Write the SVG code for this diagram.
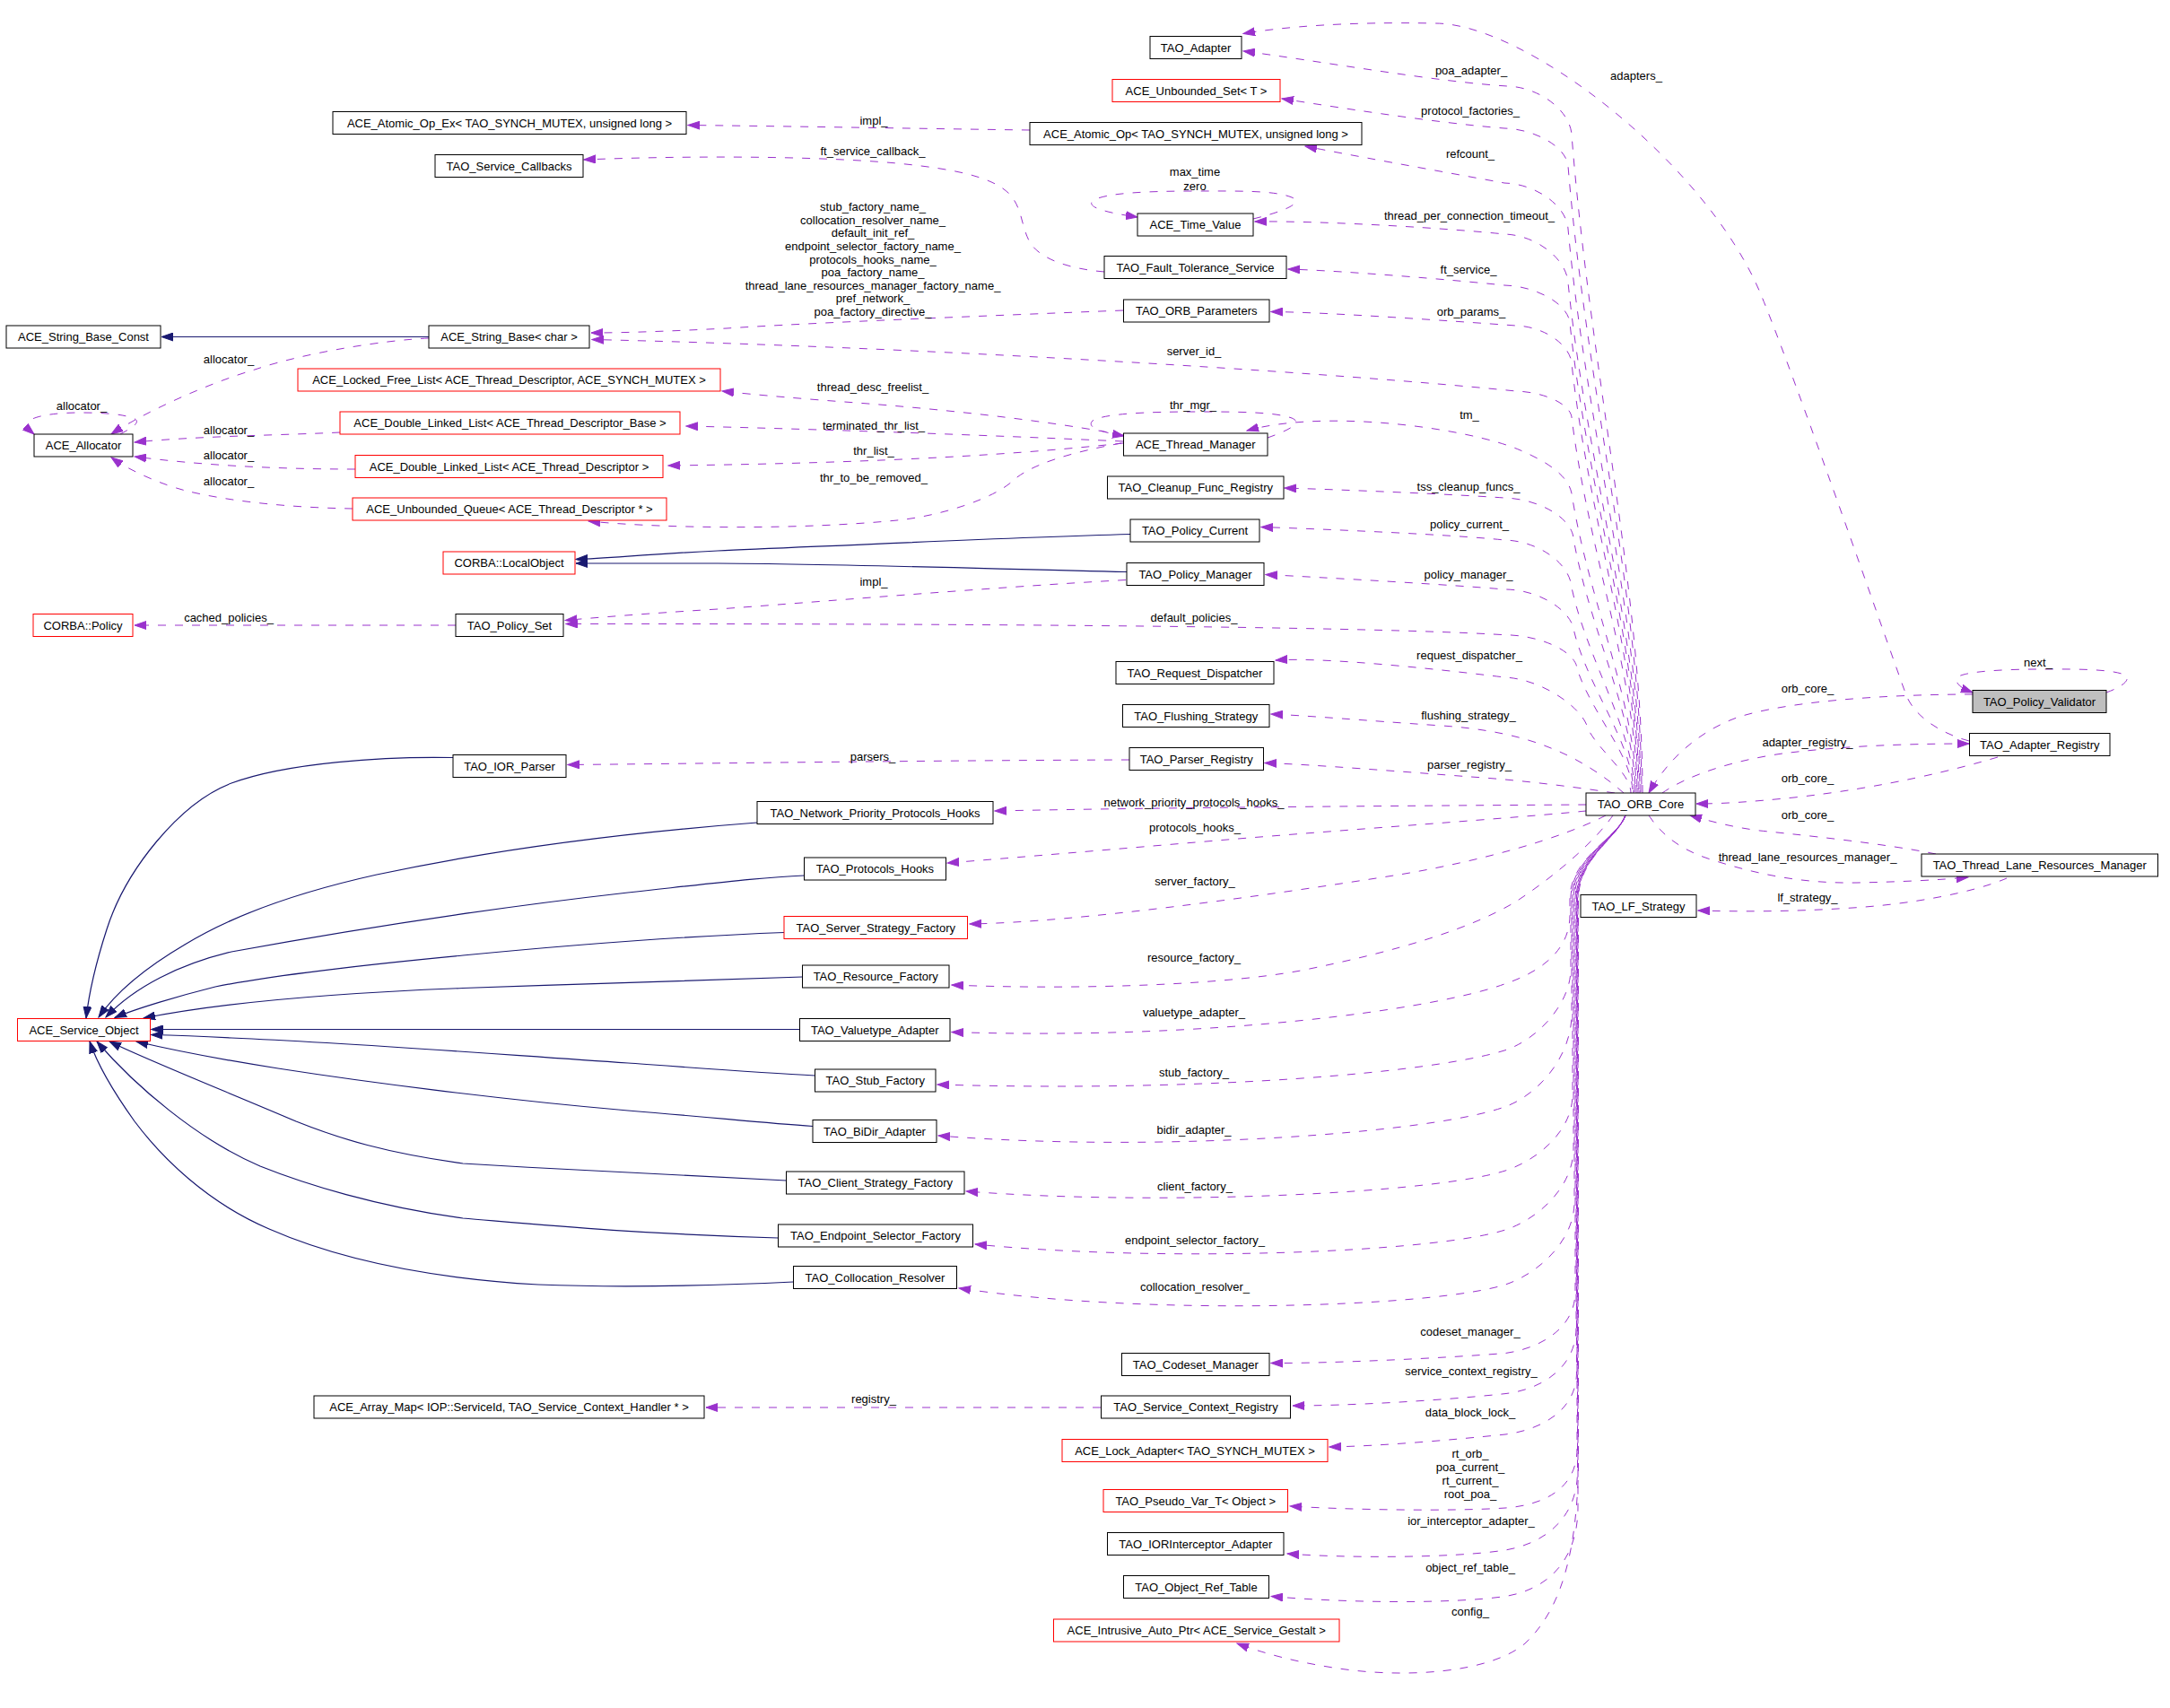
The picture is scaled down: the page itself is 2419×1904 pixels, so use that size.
<svg xmlns="http://www.w3.org/2000/svg" width="2419" height="1904" viewBox="0 0 2419 1904">
<style>
text{font-family:"Liberation Sans",Arial,Helvetica,sans-serif;font-size:13px;fill:#000}
.n rect{fill:#fff;stroke:#000;stroke-width:1}
.r rect{stroke:#f00}
.g rect{fill:#bfbfbf}
.n text{text-anchor:middle}
.u{fill:none;stroke:#9a32cd;stroke-width:1;stroke-dasharray:9,10;marker-end:url(#ap)}
.i{fill:none;stroke:#191970;stroke-width:1.2;marker-end:url(#an)}
.l{text-anchor:middle}
.o1{stroke-dashoffset:3}.o2{stroke-dashoffset:6}.o3{stroke-dashoffset:9}.o4{stroke-dashoffset:12}.o5{stroke-dashoffset:15}.o6{stroke-dashoffset:18}
</style>
<defs>
<marker id="ap" markerUnits="userSpaceOnUse" markerWidth="14" markerHeight="10" refX="13" refY="5" orient="auto"><path d="M0,0.5 L13,5 L0,9.5 z" fill="#9a32cd" stroke="#9a32cd" stroke-width="1"/></marker>
<marker id="an" markerUnits="userSpaceOnUse" markerWidth="14" markerHeight="10" refX="13" refY="5" orient="auto"><path d="M0,0.5 L13,5 L0,9.5 z" fill="#191970" stroke="#191970" stroke-width="1"/></marker>
</defs>
<rect x="0" y="0" width="2419" height="1904" fill="#fff"/>
<g id="connectors">
<!-- upper bundle from TAO_ORB_Core -->
<path class="u" d="M1831,884 C1831,664 1772,407 1752,150 C1750,123 1716,97 1680,96 C1600,91 1470,68 1386,57"/>
<path class="u o3" d="M1830,884 C1830,674 1768,430 1748,185 C1746,164 1712,144 1677,143 C1600,137 1480,118 1429,110"/>
<path class="u o6" d="M1829,884 C1829,695 1768,475 1748,255 C1746,229 1712,205 1677,204 C1600,190 1500,172 1455,163"/>
<path class="u o2" d="M1828,884 C1828,713 1768,514 1748,315 C1746,288 1712,262 1677,261 C1620,255 1480,246 1399,247"/>
<path class="u o5" d="M1827,884 C1827,727 1769,543 1750,360 C1748,339 1713,319 1677,318 C1620,312 1500,302 1436,300"/>
<path class="u o1" d="M1826,884 C1826,740 1770,573 1752,405 C1750,384 1721,364 1690,363 C1620,358 1480,348 1417,347.5"/>
<path class="u o4" d="M1825,884 C1825,758 1770,612 1752,465 C1750,450 1721,437 1690,436 C1450,412 1000,386 660,378.5"/>
<path class="u" d="M1824,884 C1824,784 1770,667 1752,550 C1748,530 1725,515 1695,502 C1640,478 1480,455 1390,480"/>
<path class="u o3" d="M1823,884 C1823,799 1771,699 1754,600 C1752,577 1715,556 1677,555 C1620,551 1500,546 1432,544"/>
<path class="u o6" d="M1822,884 C1822,815 1769,735 1752,655 C1750,628 1715,603 1677,602 C1620,596 1480,590 1406,587.5"/>
<path class="u o2" d="M1821,884 C1821,830 1771,768 1755,705 C1753,681 1716,657 1677,657 C1620,652 1480,644 1411,640.5"/>
<path class="u o5" d="M1820,884 C1820,842 1773,794 1758,745 C1756,726 1717,708 1677,707.7 C1550,700 1200,695 631,695.5"/>
<path class="u o1" d="M1818,884 C1818,862 1782,837 1770,812 C1765,790 1720,757 1677,755 C1620,748 1480,732 1422,736"/>
<path class="u" d="M1810,884 C1790,866 1760,846 1729,834 C1700,822 1660,812 1600,808.5 C1520,803 1460,798 1417,796"/>
<path class="u" d="M1800,884 C1760,878 1700,870 1640,866 C1560,860 1460,852 1410,850.5"/>
<!-- left side from TAO_ORB_Core -->
<path class="u" d="M1768,897 C1600,898 1300,900 1109,904"/>
<path class="u" d="M1768,904 C1700,911 1500,925 1368,936 C1250,946 1120,957 1056,962"/>
<path class="u" d="M1790,909 C1740,935 1650,960 1560,975 C1400,1000 1200,1028 1081,1030"/>
<path class="u" d="M1798,909 C1780,935 1740,972 1690,1005 C1640,1035 1560,1060 1450,1082 C1350,1100 1180,1103 1061,1098"/>
<!-- lower bundle -->
<path class="u" d="M1812,909 C1802,935 1752,955 1750,1000 L1750,1020 C1750,1062 1713,1085 1677,1097 C1600,1125 1350,1160 1061,1150.5"/>
<path class="u o3" d="M1812,909 C1802,935 1753,955 1751,1000 L1751,1080 C1751,1120 1712,1160 1677,1171 C1600,1195 1350,1218 1045,1209"/>
<path class="u o6" d="M1812,909 C1802,935 1754,955 1752,1000 L1752,1130 C1752,1180 1712,1222 1677,1234 C1600,1262 1300,1286 1046,1266"/>
<path class="u o2" d="M1812,909 C1802,935 1755,955 1753,1000 L1753,1220 C1753,1262 1712,1294 1678,1305 C1600,1330 1300,1345 1077,1328"/>
<path class="u o5" d="M1812,909 C1802,935 1756,955 1754,1000 L1754,1280 C1754,1325 1712,1360 1678,1371 C1600,1396 1300,1408 1087,1387"/>
<path class="u o1" d="M1812,909 C1802,935 1757,955 1755,1000 L1755,1340 C1755,1385 1712,1421 1678,1432 C1600,1457 1280,1468 1069,1436"/>
<path class="u o4" d="M1812,909 C1802,935 1758,955 1756,1000 L1756,1440 C1756,1480 1718,1503 1678,1508.5 C1610,1514 1480,1520 1417,1519.5"/>
<path class="u" d="M1812,909 C1802,935 1759,955 1757,1000 L1757,1480 C1757,1525 1718,1549 1678,1553.6 C1600,1562 1500,1567 1441,1567"/>
<path class="u o3" d="M1812,909 C1802,935 1759.5,955 1757.5,1000 L1757.5,1530 C1757.5,1572 1718,1594 1678,1599 C1620,1605 1540,1612 1482,1613"/>
<path class="u o6" d="M1812,909 C1802,935 1760,955 1758,1000 L1758,1615 C1758,1660 1720,1678 1678,1681 C1620,1685 1500,1683 1438,1679"/>
<path class="u o2" d="M1812,909 C1802,935 1760.5,955 1758.5,1000 L1758.5,1640 C1758.5,1690 1725,1720 1678,1728 C1620,1737 1500,1737 1435,1732"/>
<path class="u o5" d="M1812,909 C1802,935 1761,955 1759,1000 L1759,1680 C1759,1740 1725,1772 1678,1779.5 C1620,1788 1500,1787 1417,1779.5"/>
<path class="u o1" d="M1812,909 C1802,935 1761.5,955 1759.5,1000 L1759.5,1640 C1757,1720 1745,1790 1700,1832 C1660,1866 1560,1872 1480,1858 C1430,1850 1395,1838 1379,1832"/>
<!-- right side -->
<path class="u" d="M2199,774 C2100,774 1990,782 1936,800 C1895,815 1860,845 1838,884"/>
<path class="u" d="M1853,884 C1880,865 1930,848 1987,840 C2050,832 2120,829 2195,829"/>
<path class="u" d="M2227,844 C2180,858 2100,878 2000,889 C1950,894 1920,896 1891,896"/>
<path class="u" d="M2158,952 C2100,940 2000,930 1962,926 C1930,922 1905,915 1884,909"/>
<path class="u" d="M1838,909 C1855,935 1880,950 1910,959 C1960,975 2010,985 2070,984 C2120,983 2160,981 2194,978"/>
<path class="u" d="M2237,979 C2200,995 2130,1008 2065,1012 C1990,1017 1930,1016 1893,1015"/>
<path class="u" d="M2195,826 C2165,818 2135,800 2125,775 C2110,735 1999,414 1962,326 C1900,180 1700,26 1600,26 C1500,24 1430,30 1386,37.5"/>
<!-- self loops -->
<path class="u" d="M1397,244 C1430,236 1455,226 1440,220 C1420,212 1380,213 1332,213 C1280,213 1230,215 1218,224 C1210,232 1240,238 1268,242"/>
<path class="u" d="M1413,488 C1430,482 1455,472 1440,466 C1420,459 1380,459 1332,459 C1280,459 1230,461 1218,469 C1210,477 1230,482 1253,486"/>
<path class="u" d="M2348,772 C2365,766 2380,756 2365,751 C2345,745 2300,746 2272,746 C2240,746 2190,748 2182,755 C2178,762 2188,768 2199,772"/>
<path class="u" d="M134,484 C145,478 160,470 148,466 C135,461 110,460 88,460 C65,460 40,463 33,469 C28,474 31,478 38,484"/>
<!-- other usage edges -->
<path class="u" d="M478,377 C430,379 340,393 284,412 C230,428 160,460 124,484"/>
<path class="u" d="M379,482 C320,485 220,486 150,493"/>
<path class="u" d="M396,523 C300,523 220,518 150,509"/>
<path class="u" d="M393,567 C330,566 260,560 207,547 C180,540 145,525 124,510"/>
<path class="u" d="M1252,485 C1200,475 1100,460 955,449 C900,445 840,440 805,436"/>
<path class="u" d="M1252,492 C1100,485 900,478 765,475"/>
<path class="u" d="M1252,494 C1150,505 1000,516 745,519"/>
<path class="u" d="M1250,494 C1190,505 1150,518 1130,535 C1110,555 1050,575 1000,580 C900,590 750,590 656,581"/>
<path class="u" d="M1231,303 C1195,300 1160,290 1148,270 C1138,252 1140,232 1125,216 C1105,196 1060,188 1000,182 C900,173 750,174 651,178"/>
<path class="u" d="M1148,145 C1000,143 900,141 767,139.5"/>
<path class="u" d="M1255,646.5 C1100,655 900,672 800,679 C720,684 670,688 630,691.5"/>
<path class="u" d="M1259,847 C1000,848 800,851 633,852.5"/>
<path class="u" d="M508,697 L150,697"/>
<path class="u" d="M1252,346 C1100,352 900,360 810,366 C750,369 700,371 659,371"/>
<path class="u" d="M1227,1569 L787,1569"/>
<!-- inheritance -->
<path class="i" d="M478,375.5 L180,375.5"/>
<path class="i" d="M1260,595.5 C1100,600 900,610 800,614 C720,618 680,622 642,623.5"/>
<path class="i" d="M1256,637.5 C1100,634 900,628 800,628 C720,628 680,628 642,628"/>
<path class="i" d="M505,844.5 C430,843 320,850 258,873 C200,895 140,970 119,1036 C108,1070 100,1100 96,1135"/>
<path class="i" d="M844,917 C700,928 560,945 420,975 C330,995 260,1020 206,1053 C160,1080 130,1105 110,1134"/>
<path class="i" d="M896.5,976 C850,978 810,983 700,995 C550,1012 400,1035 258,1061 C200,1075 150,1100 118,1134"/>
<path class="i" d="M874,1039.5 C780,1043 650,1052 516,1065 C400,1076 300,1088 240,1100 C200,1110 150,1125 128,1134.5"/>
<path class="i" d="M894.5,1089 C800,1092 650,1097 516,1101.5 C400,1106 260,1115 160,1135"/>
<path class="i" d="M891.5,1147.5 L168.5,1147.5"/>
<path class="i" d="M908.5,1199 C850,1196 810,1193 700,1185 C550,1175 400,1163 258,1157 C220,1155 190,1154 168.5,1153.5"/>
<path class="i" d="M906,1255.5 C850,1252 800,1246 700,1238 C550,1225 400,1205 310,1191 C240,1180 190,1170 152,1161"/>
<path class="i" d="M876.5,1316 C800,1313 650,1305 516,1297 C430,1285 380,1270 330,1250 C260,1220 160,1180 122,1161"/>
<path class="i" d="M867.5,1380 C700,1375 600,1365 516,1358 C420,1345 340,1320 290,1300 C220,1270 150,1210 108,1161"/>
<path class="i" d="M884.5,1429 C800,1433 700,1436 600,1432 C480,1425 380,1405 300,1370 C230,1340 180,1290 150,1250 C125,1215 108,1185 100,1161"/>
<!-- edge labels -->
<text class="l" x="1640" y="82.5">poa_adapter_</text>
<text class="l" x="1824" y="88.5">adapters_</text>
<text class="l" x="1639" y="127.5">protocol_factories_</text>
<text class="l" x="974" y="139">impl_</text>
<text class="l" x="1639" y="175.5">refcount_</text>
<text class="l" x="973" y="173">ft_service_callback_</text>
<text class="l" x="1332" y="195.5">max_time</text>
<text class="l" x="1332" y="211.5">zero</text>
<text class="l" x="1638" y="244.5">thread_per_connection_timeout_</text>
<text class="l" x="1637" y="304.5">ft_service_</text>
<text class="l" x="1640" y="352">orb_params_</text>
<text class="l" x="973" y="235">stub_factory_name_</text>
<text class="l" x="973" y="249.5">collocation_resolver_name_</text>
<text class="l" x="973" y="264">default_init_ref_</text>
<text class="l" x="973" y="279">endpoint_selector_factory_name_</text>
<text class="l" x="973" y="293.5">protocols_hooks_name_</text>
<text class="l" x="973" y="308">poa_factory_name_</text>
<text class="l" x="973" y="322.5">thread_lane_resources_manager_factory_name_</text>
<text class="l" x="973" y="337">pref_network_</text>
<text class="l" x="973" y="351.5">poa_factory_directive_</text>
<text class="l" x="1331" y="395.5">server_id_</text>
<text class="l" x="255" y="405">allocator_</text>
<text class="l" x="973" y="435.5">thread_desc_freelist_</text>
<text class="l" x="91" y="456.5">allocator_</text>
<text class="l" x="1330" y="456">thr_mgr_</text>
<text class="l" x="1638" y="466.5">tm_</text>
<text class="l" x="974" y="478.5">terminated_thr_list_</text>
<text class="l" x="255" y="483.5">allocator_</text>
<text class="l" x="974" y="506.5">thr_list_</text>
<text class="l" x="255" y="511.5">allocator_</text>
<text class="l" x="974" y="536.5">thr_to_be_removed_</text>
<text class="l" x="255" y="541">allocator_</text>
<text class="l" x="1637" y="546.5">tss_cleanup_funcs_</text>
<text class="l" x="1638" y="588.5">policy_current_</text>
<text class="l" x="1637" y="645">policy_manager_</text>
<text class="l" x="974" y="653">impl_</text>
<text class="l" x="255" y="693">cached_policies_</text>
<text class="l" x="1331" y="692.5">default_policies_</text>
<text class="l" x="1638" y="735">request_dispatcher_</text>
<text class="l" x="2272" y="742.5">next_</text>
<text class="l" x="2015" y="771.5">orb_core_</text>
<text class="l" x="1637" y="801.5">flushing_strategy_</text>
<text class="l" x="2015" y="831.5">adapter_registry_</text>
<text class="l" x="973" y="848">parsers_</text>
<text class="l" x="1638" y="857">parser_registry_</text>
<text class="l" x="2015" y="871.5">orb_core_</text>
<text class="l" x="1331" y="898.5">network_priority_protocols_hooks_</text>
<text class="l" x="2015" y="913">orb_core_</text>
<text class="l" x="1332" y="926.5">protocols_hooks_</text>
<text class="l" x="2015" y="959.5">thread_lane_resources_manager_</text>
<text class="l" x="1332" y="986.5">server_factory_</text>
<text class="l" x="2015" y="1004.5">lf_strategy_</text>
<text class="l" x="1331" y="1071.5">resource_factory_</text>
<text class="l" x="1331" y="1132.5">valuetype_adapter_</text>
<text class="l" x="1331" y="1199.5">stub_factory_</text>
<text class="l" x="1331" y="1263.5">bidir_adapter_</text>
<text class="l" x="1332" y="1327">client_factory_</text>
<text class="l" x="1332" y="1387">endpoint_selector_factory_</text>
<text class="l" x="1332" y="1439">collocation_resolver_</text>
<text class="l" x="1639" y="1489">codeset_manager_</text>
<text class="l" x="1640" y="1533">service_context_registry_</text>
<text class="l" x="974" y="1564">registry_</text>
<text class="l" x="1639" y="1579">data_block_lock_</text>
<text class="l" x="1639" y="1625">rt_orb_</text>
<text class="l" x="1639" y="1640">poa_current_</text>
<text class="l" x="1639" y="1655">rt_current_</text>
<text class="l" x="1639" y="1669.5">root_poa_</text>
<text class="l" x="1640" y="1699.5">ior_interceptor_adapter_</text>
<text class="l" x="1639" y="1752">object_ref_table_</text>
<text class="l" x="1639" y="1800.5">config_</text>
</g>
<g id="n_TAO_Adapter" class="n"><rect x="1282" y="40.5" width="102" height="25"/><text x="1333" y="57.5">TAO_Adapter</text></g>
<g id="n_ACE_Unbounded_Set" class="n r"><rect x="1240" y="88.5" width="187" height="25"/><text x="1333.5" y="105.5">ACE_Unbounded_Set&lt; T &gt;</text></g>
<g id="n_ACE_Atomic_Op_Ex" class="n"><rect x="371" y="124.5" width="394" height="25"/><text x="568" y="141.5">ACE_Atomic_Op_Ex&lt; TAO_SYNCH_MUTEX, unsigned long &gt;</text></g>
<g id="n_ACE_Atomic_Op" class="n"><rect x="1148" y="136.5" width="370" height="25"/><text x="1333" y="153.5">ACE_Atomic_Op&lt; TAO_SYNCH_MUTEX, unsigned long &gt;</text></g>
<g id="n_TAO_Service_Callbacks" class="n"><rect x="485" y="172.5" width="165" height="25"/><text x="567.5" y="189.5">TAO_Service_Callbacks</text></g>
<g id="n_ACE_Time_Value" class="n"><rect x="1268" y="238" width="129" height="25"/><text x="1332.5" y="255">ACE_Time_Value</text></g>
<g id="n_TAO_Fault_Tolerance_Service" class="n"><rect x="1231" y="285.5" width="203" height="25"/><text x="1332.5" y="302.5">TAO_Fault_Tolerance_Service</text></g>
<g id="n_TAO_ORB_Parameters" class="n"><rect x="1252.5" y="334" width="162.5" height="25"/><text x="1333.75" y="351">TAO_ORB_Parameters</text></g>
<g id="n_ACE_String_Base_Const" class="n"><rect x="7" y="363" width="172" height="25"/><text x="93" y="380">ACE_String_Base_Const</text></g>
<g id="n_ACE_String_Base_char" class="n"><rect x="478" y="363" width="179" height="25"/><text x="567.5" y="380">ACE_String_Base&lt; char &gt;</text></g>
<g id="n_ACE_Locked_Free_List" class="n r"><rect x="332" y="411" width="471" height="25"/><text x="567.5" y="428">ACE_Locked_Free_List&lt; ACE_Thread_Descriptor, ACE_SYNCH_MUTEX &gt;</text></g>
<g id="n_ACE_DLL_Base" class="n r"><rect x="379" y="459" width="379" height="25"/><text x="568.5" y="476">ACE_Double_Linked_List&lt; ACE_Thread_Descriptor_Base &gt;</text></g>
<g id="n_ACE_Allocator" class="n"><rect x="38" y="484" width="110" height="25"/><text x="93" y="501">ACE_Allocator</text></g>
<g id="n_ACE_Thread_Manager" class="n"><rect x="1252.5" y="483" width="160.5" height="25"/><text x="1332.75" y="500">ACE_Thread_Manager</text></g>
<g id="n_ACE_DLL_TD" class="n r"><rect x="396" y="507.5" width="343" height="25"/><text x="567.5" y="524.5">ACE_Double_Linked_List&lt; ACE_Thread_Descriptor &gt;</text></g>
<g id="n_TAO_Cleanup_Func_Registry" class="n"><rect x="1234.5" y="531" width="196.5" height="25"/><text x="1332.75" y="548">TAO_Cleanup_Func_Registry</text></g>
<g id="n_ACE_Unbounded_Queue" class="n r"><rect x="393" y="555" width="350" height="25"/><text x="568" y="572">ACE_Unbounded_Queue&lt; ACE_Thread_Descriptor * &gt;</text></g>
<g id="n_TAO_Policy_Current" class="n"><rect x="1260" y="579" width="144" height="25"/><text x="1332" y="596">TAO_Policy_Current</text></g>
<g id="n_CORBA_LocalObject" class="n r"><rect x="494" y="615" width="147" height="25"/><text x="567.5" y="632">CORBA::LocalObject</text></g>
<g id="n_TAO_Policy_Manager" class="n"><rect x="1256" y="627.5" width="153" height="25"/><text x="1332.5" y="644.5">TAO_Policy_Manager</text></g>
<g id="n_CORBA_Policy" class="n r"><rect x="37" y="684.5" width="111" height="25"/><text x="92.5" y="701.5">CORBA::Policy</text></g>
<g id="n_TAO_Policy_Set" class="n"><rect x="508" y="684.5" width="120" height="25"/><text x="568" y="701.5">TAO_Policy_Set</text></g>
<g id="n_TAO_Request_Dispatcher" class="n"><rect x="1244" y="737.5" width="176" height="25"/><text x="1332" y="754.5">TAO_Request_Dispatcher</text></g>
<g id="n_TAO_Policy_Validator" class="n g"><rect x="2199" y="769.5" width="149" height="25"/><text x="2273.5" y="786.5">TAO_Policy_Validator</text></g>
<g id="n_TAO_Flushing_Strategy" class="n"><rect x="1251.5" y="785.5" width="163.5" height="25"/><text x="1333.25" y="802.5">TAO_Flushing_Strategy</text></g>
<g id="n_TAO_Adapter_Registry" class="n"><rect x="2195.5" y="817.5" width="156.5" height="25"/><text x="2273.75" y="834.5">TAO_Adapter_Registry</text></g>
<g id="n_TAO_Parser_Registry" class="n"><rect x="1259" y="833.5" width="149.5" height="25"/><text x="1333.75" y="850.5">TAO_Parser_Registry</text></g>
<g id="n_TAO_IOR_Parser" class="n"><rect x="505" y="841.5" width="126" height="25"/><text x="568" y="858.5">TAO_IOR_Parser</text></g>
<g id="n_TAO_ORB_Core" class="n"><rect x="1768" y="884" width="122" height="25"/><text x="1829" y="901">TAO_ORB_Core</text></g>
<g id="n_TAO_Network_Priority_Protocols_Hooks" class="n"><rect x="844" y="893.5" width="263" height="25"/><text x="975.5" y="910.5">TAO_Network_Priority_Protocols_Hooks</text></g>
<g id="n_TAO_Thread_Lane_Resources_Manager" class="n"><rect x="2142" y="952" width="263.5" height="25"/><text x="2273.75" y="969">TAO_Thread_Lane_Resources_Manager</text></g>
<g id="n_TAO_Protocols_Hooks" class="n"><rect x="896.5" y="956" width="158" height="25"/><text x="975.5" y="973">TAO_Protocols_Hooks</text></g>
<g id="n_TAO_LF_Strategy" class="n"><rect x="1762" y="997.5" width="129" height="25"/><text x="1826.5" y="1014.5">TAO_LF_Strategy</text></g>
<g id="n_TAO_Server_Strategy_Factory" class="n r"><rect x="874" y="1021.5" width="204.5" height="25"/><text x="976.25" y="1038.5">TAO_Server_Strategy_Factory</text></g>
<g id="n_TAO_Resource_Factory" class="n"><rect x="894.5" y="1076" width="163.5" height="25"/><text x="976.25" y="1093">TAO_Resource_Factory</text></g>
<g id="n_ACE_Service_Object" class="n r"><rect x="19.5" y="1135.5" width="148" height="25"/><text x="93.5" y="1152.5">ACE_Service_Object</text></g>
<g id="n_TAO_Valuetype_Adapter" class="n"><rect x="891.5" y="1135.5" width="167.5" height="25"/><text x="975.25" y="1152.5">TAO_Valuetype_Adapter</text></g>
<g id="n_TAO_Stub_Factory" class="n"><rect x="908.5" y="1192" width="134.5" height="25"/><text x="975.75" y="1209">TAO_Stub_Factory</text></g>
<g id="n_TAO_BiDir_Adapter" class="n"><rect x="906" y="1248.5" width="138" height="25"/><text x="975" y="1265.5">TAO_BiDir_Adapter</text></g>
<g id="n_TAO_Client_Strategy_Factory" class="n"><rect x="876.5" y="1306" width="198.5" height="25"/><text x="975.75" y="1323">TAO_Client_Strategy_Factory</text></g>
<g id="n_TAO_Endpoint_Selector_Factory" class="n"><rect x="867.5" y="1365" width="217" height="25"/><text x="976" y="1382">TAO_Endpoint_Selector_Factory</text></g>
<g id="n_TAO_Collocation_Resolver" class="n"><rect x="884.5" y="1411.5" width="182" height="25"/><text x="975.5" y="1428.5">TAO_Collocation_Resolver</text></g>
<g id="n_TAO_Codeset_Manager" class="n"><rect x="1250.5" y="1508.5" width="164.5" height="25"/><text x="1332.75" y="1525.5">TAO_Codeset_Manager</text></g>
<g id="n_ACE_Array_Map" class="n"><rect x="350" y="1556" width="435" height="25"/><text x="567.5" y="1573">ACE_Array_Map&lt; IOP::ServiceId, TAO_Service_Context_Handler * &gt;</text></g>
<g id="n_TAO_Service_Context_Registry" class="n"><rect x="1227.5" y="1556" width="211" height="25"/><text x="1333" y="1573">TAO_Service_Context_Registry</text></g>
<g id="n_ACE_Lock_Adapter" class="n r"><rect x="1184" y="1604.5" width="296" height="25"/><text x="1332" y="1621.5">ACE_Lock_Adapter&lt; TAO_SYNCH_MUTEX &gt;</text></g>
<g id="n_TAO_Pseudo_Var_T" class="n r"><rect x="1230" y="1660.5" width="205.5" height="25"/><text x="1332.75" y="1677.5">TAO_Pseudo_Var_T&lt; Object &gt;</text></g>
<g id="n_TAO_IORInterceptor_Adapter" class="n"><rect x="1234.5" y="1708.5" width="196.5" height="25"/><text x="1332.75" y="1725.5">TAO_IORInterceptor_Adapter</text></g>
<g id="n_TAO_Object_Ref_Table" class="n"><rect x="1252.5" y="1756.5" width="162" height="25"/><text x="1333.5" y="1773.5">TAO_Object_Ref_Table</text></g>
<g id="n_ACE_Intrusive_Auto_Ptr" class="n r"><rect x="1174.5" y="1805" width="318.5" height="25"/><text x="1333.75" y="1822">ACE_Intrusive_Auto_Ptr&lt; ACE_Service_Gestalt &gt;</text></g>
</svg>
